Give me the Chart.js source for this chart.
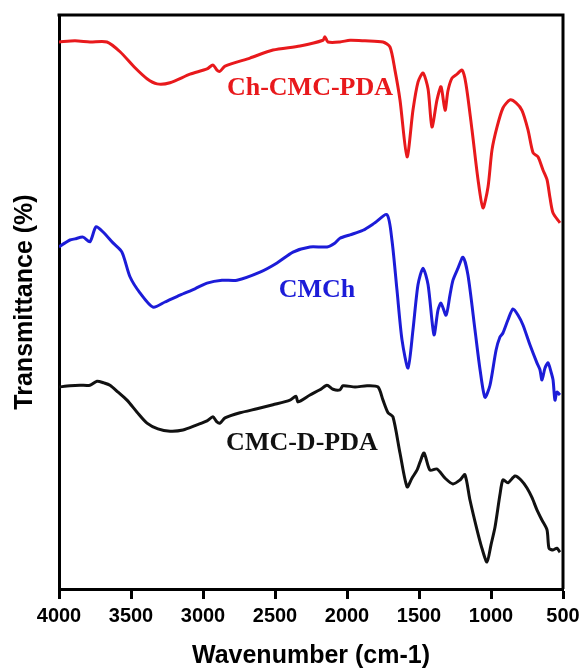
<!DOCTYPE html>
<html>
<head>
<meta charset="utf-8">
<script src="https://cdn.jsdelivr.net/npm/chart.js@4.4.1/dist/chart.umd.min.js"></script>
<style>
  body { margin: 0; background: #fff; }
  #wrap { width: 585px; height: 672px; }
</style>
</head>
<body>
<div id="wrap"><canvas id="myChart"></canvas></div>
<script>
// FTIR spectra (wavenumber in cm-1, transmittance %)
const xTicks = [4000, 3500, 3000, 2500, 2000, 1500, 1000, 500];

const redWn = [4000, 3889, 3785, 3667, 3576, 3472, 3389, 3319, 3229, 3090, 2972, 2931, 2903, 2882, 2847, 2674, 2514, 2326, 2167, 2153, 2132, 2049, 1979, 1875, 1750, 1701, 1667, 1632, 1583, 1542, 1507, 1472, 1437, 1410, 1375, 1347, 1319, 1299, 1271, 1236, 1201, 1174, 1132, 1090, 1056, 1021, 993, 958, 917, 868, 826, 785, 743, 708, 674, 639, 611, 590, 569, 521];
const redT = [95.3, 95.5, 95.3, 95.3, 93.6, 90.8, 88.9, 88.0, 88.2, 89.7, 90.6, 91.3, 90.4, 90.2, 91.1, 92.5, 93.9, 94.6, 95.6, 96.2, 95.3, 95.3, 95.6, 95.5, 95.3, 94.4, 90.4, 85.2, 75.3, 83.4, 88.3, 89.9, 87.1, 80.5, 85.2, 87.5, 83.4, 86.8, 89.0, 89.7, 90.4, 88.0, 80.0, 71.3, 66.4, 70.0, 76.5, 80.5, 83.8, 85.2, 84.7, 83.4, 80.0, 76.0, 75.3, 73.0, 71.3, 68.1, 65.5, 63.8];

const blueWn = [4000, 3958, 3924, 3889, 3833, 3785, 3743, 3694, 3625, 3563, 3507, 3438, 3347, 3264, 3160, 3056, 2972, 2868, 2764, 2604, 2486, 2375, 2257, 2139, 2083, 2049, 1979, 1889, 1806, 1722, 1688, 1653, 1618, 1576, 1542, 1507, 1472, 1437, 1396, 1368, 1347, 1312, 1285, 1264, 1229, 1194, 1160, 1111, 1076, 1042, 1007, 965, 938, 917, 882, 847, 812, 778, 729, 681, 660, 646, 625, 604, 583, 569, 556, 542, 521];
const blueT = [59.6, 60.3, 60.8, 61.0, 61.3, 60.5, 63.1, 62.2, 60.3, 58.7, 54.4, 51.6, 49.1, 50.0, 51.2, 52.3, 53.3, 53.8, 53.8, 55.2, 56.8, 58.7, 59.6, 59.6, 60.3, 61.1, 61.7, 62.5, 63.8, 65.2, 60.8, 52.1, 43.4, 38.5, 45.1, 53.0, 55.9, 53.0, 44.3, 48.6, 49.8, 47.7, 51.2, 53.8, 55.9, 57.8, 54.7, 45.1, 38.2, 33.4, 35.5, 41.6, 43.9, 44.6, 46.9, 48.8, 47.7, 46.0, 42.5, 39.4, 38.2, 36.4, 38.5, 39.4, 37.8, 36.4, 32.9, 34.3, 33.8];

const blackWn = [4000, 3924, 3854, 3785, 3736, 3688, 3646, 3590, 3528, 3458, 3389, 3313, 3229, 3139, 3042, 2972, 2931, 2903, 2882, 2847, 2743, 2625, 2514, 2396, 2354, 2340, 2257, 2188, 2139, 2097, 2049, 2028, 1944, 1861, 1785, 1750, 1715, 1681, 1632, 1583, 1549, 1514, 1493, 1465, 1424, 1375, 1319, 1264, 1215, 1181, 1146, 1097, 1063, 1028, 1000, 972, 938, 917, 882, 833, 792, 750, 715, 681, 646, 611, 597, 569, 542, 521];
const blackT = [35.2, 35.4, 35.5, 35.5, 36.2, 35.9, 35.5, 34.3, 32.9, 30.8, 28.9, 27.9, 27.5, 27.7, 28.6, 29.3, 30.0, 29.1, 28.9, 29.8, 30.7, 31.4, 32.1, 32.9, 33.6, 32.6, 33.8, 34.7, 35.5, 34.8, 34.7, 35.4, 35.2, 35.4, 35.2, 32.9, 30.7, 30.0, 23.7, 17.8, 19.3, 20.7, 22.1, 23.7, 20.7, 20.9, 19.3, 18.3, 19.0, 19.9, 15.5, 10.3, 7.1, 4.7, 7.7, 10.8, 16.4, 19.0, 18.5, 19.7, 19.0, 17.6, 15.9, 13.8, 12.0, 10.3, 7.1, 6.8, 7.1, 6.4];

// curve labels: text, colour, anchor (wavenumber, %T)
const labelText = ["Ch-CMC-PDA", "CMCh", "CMC-D-PDA"];
const labelColor = ["#e8191c", "#1c1cd8", "#111111"];
const labelWn = [2257, 2208, 2313];
const labelT = [87.3, 52.1, 25.4];

const toPoints = (wn, t) => wn.map((w, i) => ({ x: w, y: t[i] }));

// top and right frame + curve labels
const framePlugin = {
    id: 'frame',
    afterDatasetsDraw(chart) {
        const { ctx, chartArea, scales } = chart;
        ctx.save();
        ctx.strokeStyle = '#000';
        ctx.lineWidth = 3;
        ctx.beginPath();
        ctx.moveTo(chartArea.left - 1.5, chartArea.top);
        ctx.lineTo(chartArea.right, chartArea.top);
        ctx.lineTo(chartArea.right, chartArea.bottom);
        ctx.stroke();

        ctx.font = 'bold 26px "Liberation Serif", "Times New Roman", serif';
        ctx.textAlign = 'center';
        ctx.textBaseline = 'middle';
        labelText.forEach((txt, i) => {
            ctx.fillStyle = labelColor[i];
            ctx.fillText(txt, scales.x.getPixelForValue(labelWn[i]), scales.y.getPixelForValue(labelT[i]));
        });
        ctx.restore();
    }
};

const lineStyle = { borderWidth: 3, pointRadius: 0, tension: 0.25, fill: false };

new Chart(document.getElementById("myChart"), {
    type: 'line',
    data: {
        datasets: [
            { label: 'Ch-CMC-PDA', data: toPoints(redWn, redT), borderColor: labelColor[0], ...lineStyle },
            { label: 'CMCh', data: toPoints(blueWn, blueT), borderColor: labelColor[1], ...lineStyle },
            { label: 'CMC-D-PDA', data: toPoints(blackWn, blackT), borderColor: labelColor[2], ...lineStyle }
        ]
    },
    options: {
        responsive: true,
        maintainAspectRatio: false,
        animation: false,
        layout: { padding: { top: 15, right: 22, left: 0, bottom: 0 } },
        plugins: { legend: { display: false }, tooltip: { enabled: false } },
        scales: {
            x: {
                type: 'linear',
                reverse: true,
                min: 500,
                max: 4000,
                afterBuildTicks: scale => { scale.ticks = xTicks.map(v => ({ value: v })); },
                afterFit: scale => { scale.height = 83; },
                ticks: {
                    color: '#000',
                    padding: 5,
                    maxRotation: 0,
                    callback: v => String(v),
                    font: { family: '"Liberation Sans", Arial, sans-serif', size: 20, weight: 'bold' }
                },
                grid: { drawOnChartArea: false, drawTicks: true, tickLength: 10, tickWidth: 3, color: '#000' },
                border: { display: true, width: 3, color: '#000' },
                title: {
                    display: true,
                    text: 'Wavenumber (cm-1)',
                    color: '#000',
                    padding: { top: 0, bottom: 1 },
                    font: { family: '"Liberation Sans", Arial, sans-serif', size: 25, weight: 'bold' }
                }
            },
            y: {
                min: 0,
                max: 100,
                afterFit: scale => { scale.width = 59; },
                ticks: { display: false },
                grid: { display: false },
                border: { display: true, width: 3, color: '#000' },
                title: {
                    display: true,
                    text: 'Transmittance (%)',
                    color: '#000',
                    padding: { top: 10, bottom: 0 },
                    font: { family: '"Liberation Sans", Arial, sans-serif', size: 25, weight: 'bold' }
                }
            }
        }
    },
    plugins: [framePlugin]
});
</script>
</body>
</html>
